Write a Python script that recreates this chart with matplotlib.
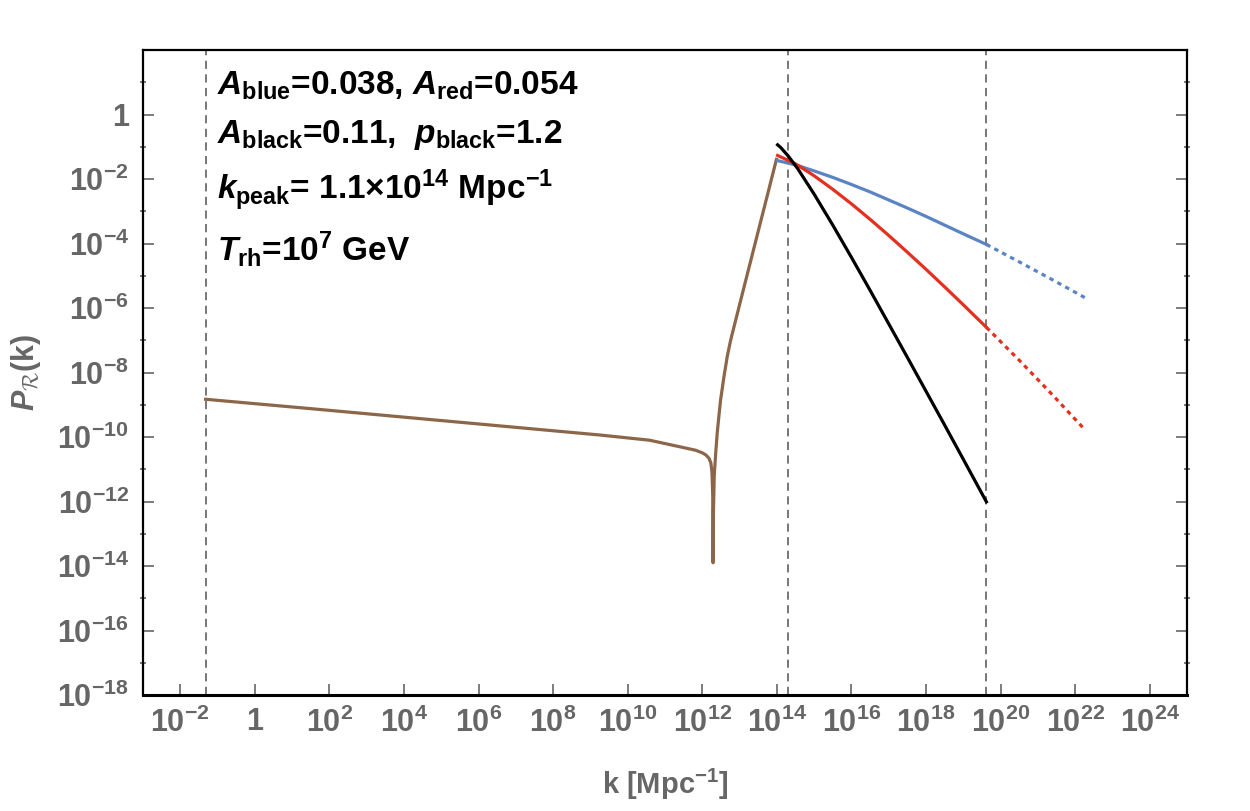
import numpy as np
import matplotlib
matplotlib.use("Agg")
import matplotlib.pyplot as plt
from matplotlib.ticker import FixedLocator, FuncFormatter, NullFormatter

# =============================
# Fonts
# =============================
plt.rcParams['font.family'] = ['Liberation Sans', 'DejaVu Sans']
plt.rcParams['mathtext.fontset'] = 'custom'
plt.rcParams['mathtext.rm'] = 'Liberation Sans:bold'
plt.rcParams['mathtext.bf'] = 'Liberation Sans:bold'
plt.rcParams['mathtext.it'] = 'Liberation Sans:italic:bold'
plt.rcParams['mathtext.cal'] = 'cmsy10'

# =============================
# Data (log10 k, log10 P)
# =============================
brown_logk = [-1.32, 1.49, 9.27, 10.59, 11.82, 12.00, 12.10, 12.18, 12.23, 12.26, 12.28,
              12.29, 12.30, 12.32, 12.36, 12.40, 12.45, 12.49, 12.58, 12.67, 12.76,
              13.03, 13.99]
brown_logP = [-8.83, -9.12, -9.94, -10.10, -10.41, -10.49, -10.56, -10.66, -10.80, -11.10, -11.80,
              -13.90, -12.30, -11.20, -10.50, -9.88, -9.30, -8.86, -8.14, -7.50, -7.00,
              -5.76, -1.39]

black_logk = [14.02, 14.10, 14.30, 14.56, 15.0, 15.5, 16.0, 16.5, 17.0, 17.5, 18.0, 18.5, 19.0, 19.62]
black_logP = [-0.94, -1.02, -1.28, -1.68, -2.47, -3.43, -4.43, -5.45, -6.49, -7.53, -8.58, -9.63, -10.69, -12.01]

red_logk = [14.02, 14.5, 15.0, 15.5, 16.0, 16.5, 17.0, 17.5, 18.0, 18.5, 19.0, 19.62]
red_logP = [-1.27, -1.53, -1.90, -2.32, -2.77, -3.25, -3.75, -4.27, -4.80, -5.345, -5.90, -6.60]
red_ext_logk = [19.62, 20.5, 21.3, 22.21]
red_ext_logP = [-6.60, -7.62, -8.58, -9.71]

blue_logk = [14.02, 14.56, 15.0, 15.5, 16.0, 16.5, 17.0, 17.5, 18.0, 18.5, 19.0, 19.62]
blue_logP = [-1.43, -1.58, -1.75, -1.95, -2.17, -2.40, -2.65, -2.90, -3.16, -3.43, -3.70, -4.03]
blue_ext_logk = [19.62, 20.5, 21.4, 22.31]
blue_ext_logP = [-4.03, -4.57, -5.13, -5.71]

vline_logk = [-1.32, 14.29, 19.62]

x_ticks = [-2, 0, 2, 4, 6, 8, 10, 12, 14, 16, 18, 20, 22, 24]
y_ticks = [-18, -16, -14, -12, -10, -8, -6, -4, -2, 0]

notes = [
    r"$A_{\mathrm{blue}}$=0.038, $A_{\mathrm{red}}$=0.054",
    r"$A_{\mathrm{black}}$=0.11,  $p_{\mathrm{black}}$=1.2",
    r"$k_{\mathrm{peak}}$= 1.1×10$^{14}$ Mpc$^{-1}$",
    r"$T_{\mathrm{rh}}$=10$^{7}$ GeV",
]

BROWN = "#8c6648"
BLUE = "#5b84c4"
RED = "#e3301f"
GRAY = "#666666"


def p10(v):
    return 10.0 ** np.asarray(v)


# =============================
# Figure
# =============================
fig = plt.figure(figsize=(12.5, 8.11), dpi=100)
ax = fig.add_axes([143 / 1250, 116 / 811, 1044 / 1250, 645 / 811])
ax.set_xscale("log")
ax.set_yscale("log")
ax.set_xlim(1e-3, 1e25)
ax.set_ylim(1e-18, 1e2)

for xv in vline_logk:
    ax.axvline(10.0 ** xv, color="#777777", lw=1.4, ls=(0, (4.2, 2.8)), zorder=1)

lw = 2.3
ax.plot(p10(brown_logk), p10(brown_logP), color=BROWN, lw=lw,
        solid_joinstyle="round", zorder=3)
ax.plot(p10(blue_logk), p10(blue_logP), color=BLUE, lw=lw, solid_joinstyle="round", zorder=3)
ax.plot(p10(blue_ext_logk), p10(blue_ext_logP), color=BLUE, lw=lw, ls=(0, (1.4, 1.4)), zorder=3)
ax.plot(p10(red_logk), p10(red_logP), color=RED, lw=lw, solid_joinstyle="round", zorder=4)
ax.plot(p10(red_ext_logk), p10(red_ext_logP), color=RED, lw=lw, ls=(0, (1.4, 1.4)), zorder=4)
ax.plot(p10(black_logk), p10(black_logP), color="black", lw=lw, solid_joinstyle="round", zorder=5)

# =============================
# Axes styling
# =============================
def fmt(v, pos):
    e = int(round(np.log10(v)))
    if e == 0:
        return "1"
    return r"$10^{%d}$" % e

ax.xaxis.set_major_locator(FixedLocator(p10(x_ticks)))
ax.xaxis.set_minor_locator(FixedLocator([]))
ax.yaxis.set_major_locator(FixedLocator(p10(y_ticks)))
ax.yaxis.set_minor_locator(FixedLocator(p10(np.arange(-17, 2, 2))))
ax.xaxis.set_major_formatter(FuncFormatter(fmt))
ax.yaxis.set_major_formatter(FuncFormatter(fmt))
ax.yaxis.set_minor_formatter(NullFormatter())

ax.tick_params(axis="x", which="major", direction="in", length=8, width=1.2,
               color=GRAY, labelsize=22, labelcolor=GRAY, pad=9, top=False)
ax.tick_params(axis="y", which="major", direction="in", length=8, width=1.2,
               color=GRAY, labelsize=22, labelcolor=GRAY, pad=10, right=True)
ax.tick_params(axis="y", which="minor", direction="inout", length=4, width=1.2,
               color=GRAY, right=True)
for lab in ax.get_xticklabels() + ax.get_yticklabels():
    lab.set_fontweight("bold")

for side in ["left", "right", "top"]:
    ax.spines[side].set_linewidth(1.6)
ax.spines["bottom"].set_linewidth(2.2)

ax.set_xlabel(r"k [Mpc$^{-1}$]", fontsize=21, color=GRAY, fontweight="bold", labelpad=20)
ax.set_ylabel(r"$P_{\mathcal{R}}$(k)", fontsize=22, color=GRAY, fontweight="bold", labelpad=10)

# =============================
# Annotations
# =============================
baselines = [95, 143, 200, 261]
for txt, yb in zip(notes, baselines):
    fig.text(217 / 1250, 1 - yb / 811, txt, fontsize=24, fontweight="bold",
             color="black", va="baseline", ha="left")

fig.savefig("out.png", dpi=100)
